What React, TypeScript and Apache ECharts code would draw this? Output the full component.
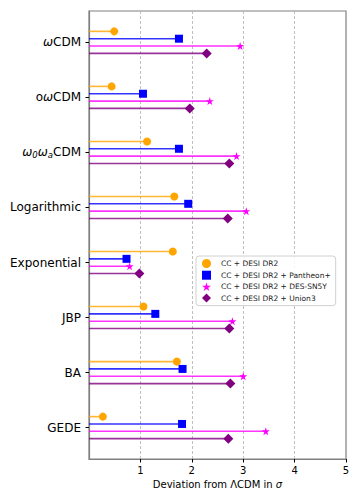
import React, { useEffect, useRef } from "react";
import * as echarts from "echarts";

const models = ["ωCDM", "oωCDM", "ω₀ωₐCDM", "Logarithmic", "Exponential", "JBP", "BA", "GEDE"];
const modelLabels = [
  "{w|ω}CDM",
  "o{w|ω}CDM",
  "{w|ω}{s|0}{w|ω}{s|a}CDM",
  "Logarithmic",
  "Exponential",
  "JBP",
  "BA",
  "GEDE",
];
const seriesNames = [
  "CC + DESI DR2",
  "CC + DESI DR2 + Pantheon+",
  "CC + DESI DR2 + DES-SN5Y",
  "CC + DESI DR2 + Union3",
];
const ccDesi = [0.49, 0.44, 1.13, 1.66, 1.63, 1.06, 1.71, 0.27];
const pantheon = [1.75, 1.05, 1.75, 1.93, 0.73, 1.29, 1.82, 1.81];
const desSn5y = [2.94, 2.35, 2.87, 3.06, 0.79, 2.79, 3.0, 3.44];
const union3 = [2.29, 1.96, 2.73, 2.7, 0.98, 2.73, 2.75, 2.71];
const xTicks = [1, 2, 3, 4, 5];

const allValues = [ccDesi, pantheon, desSn5y, union3];
const colors = ["#FFA500", "#0000FF", "#FF00FF", "#800080"];
const star = "path://M50,0 L61.8,35.3 L98.9,35.3 L69.1,57.1 L80.3,92.5 L50,70.7 L19.7,92.5 L30.9,57.1 L1.1,35.3 L38.2,35.3 Z";
const symbols = ["circle", "rect", star, "diamond"];
const sizes = [8, 8, 8, 10];
const offsets = [-0.2, -1 / 15, 1 / 15, 0.2];

export default function App() {
  const ref = useRef<HTMLDivElement>(null);
  useEffect(() => {
    if (!ref.current) return;
    const chart = echarts.init(ref.current, undefined, { renderer: "svg" });
    const font = "DejaVu Sans";
    const series: any[] = [];
    allValues.forEach((vals, k) => {
      const data = vals.map((v, i) => [v, i + offsets[k]]);
      series.push({
        type: "custom",
        name: "line" + k,
        z: 1,
        data,
        encode: { x: 0, y: 1 },
        renderItem: (params: any, api: any) => {
          const v = api.value(0);
          const y = api.value(1);
          const p0 = api.coord([0, y]);
          const p1 = api.coord([v, y]);
          return {
            type: "line",
            shape: { x1: p0[0], y1: p0[1], x2: p1[0], y2: p1[1] },
            style: { stroke: colors[k], lineWidth: 1.6, opacity: 0.8 },
          };
        },
      });
    });
    allValues.forEach((vals, k) => {
      series.push({
        type: "scatter",
        name: seriesNames[k],
        z: 3,
        symbol: symbols[k],
        symbolSize: sizes[k],
        itemStyle: { color: colors[k], opacity: 1 },
        data: vals.map((v, i) => [v, i + offsets[k]]),
      });
    });
    chart.setOption({
      animation: false,
      textStyle: { fontFamily: font },
      grid: {
        left: 89,
        right: 14,
        top: 11,
        bottom: 45,
        show: true,
        borderColor: "#808080",
        borderWidth: 1.2,
        backgroundColor: "transparent",
      },
      legend: {
        data: seriesNames.map((n, k) => ({ name: n, icon: symbols[k] })),
        orient: "vertical",
        left: 196,
        top: 256,
        itemWidth: 9,
        itemHeight: 9,
        itemGap: 2.7,
        padding: [3, 5, 3, 6],
        borderColor: "#d0d0d0",
        borderWidth: 1,
        borderRadius: 3,
        backgroundColor: "rgba(255,255,255,0.85)",
        selectedMode: false,
        textStyle: { fontSize: 7.5, color: "#222", fontFamily: font, padding: [0, 0, 0, 5] },
      },
      xAxis: {
        type: "value",
        min: 0,
        max: 5,
        interval: 1,
        name: "Deviation from ΛCDM in {i|σ}",
        nameLocation: "middle",
        nameGap: 20,
        nameTextStyle: {
          fontSize: 10,
          color: "#000",
          fontFamily: font,
          rich: { i: { fontStyle: "italic", fontSize: 10, fontFamily: font, color: "#000" } },
        },
        axisLine: { show: true, onZero: false, lineStyle: { color: "#808080", width: 1.2 } },
        axisTick: { show: true, length: 3.5, lineStyle: { color: "#000" }, customValues: xTicks },
        axisLabel: { fontSize: 10, color: "#000", margin: 6, fontFamily: font, customValues: xTicks },
        splitLine: { show: true, lineStyle: { color: "#b0b0b0", type: [3, 2], width: 0.8 } },
      },
      yAxis: {
        type: "value",
        min: -0.57,
        max: 7.57,
        inverse: true,
        axisLine: { show: true, onZero: false, lineStyle: { color: "#808080", width: 1.2 } },
        axisTick: { show: true, length: 3.5, lineStyle: { color: "#000" }, customValues: models.map((_, i) => i) },
        axisLabel: {
          fontSize: 12,
          color: "#000",
          margin: 8,
          fontFamily: font,
          customValues: models.map((_, i) => i),
          formatter: (v: number) => modelLabels[Math.round(v)] ?? "",
          rich: {
            w: { fontStyle: "italic", fontSize: 12, fontFamily: font, color: "#000" },
            s: { fontStyle: "italic", fontSize: 8.5, fontFamily: font, color: "#000", verticalAlign: "bottom", padding: [5, 0, 0, 0] },
          },
        },
        splitLine: { show: false },
      },
      series,
    });
    return () => chart.dispose();
  }, []);
  return <div ref={ref} style={{ width: 360, height: 504, position: "absolute", left: 0, top: 0 }} />;
}
